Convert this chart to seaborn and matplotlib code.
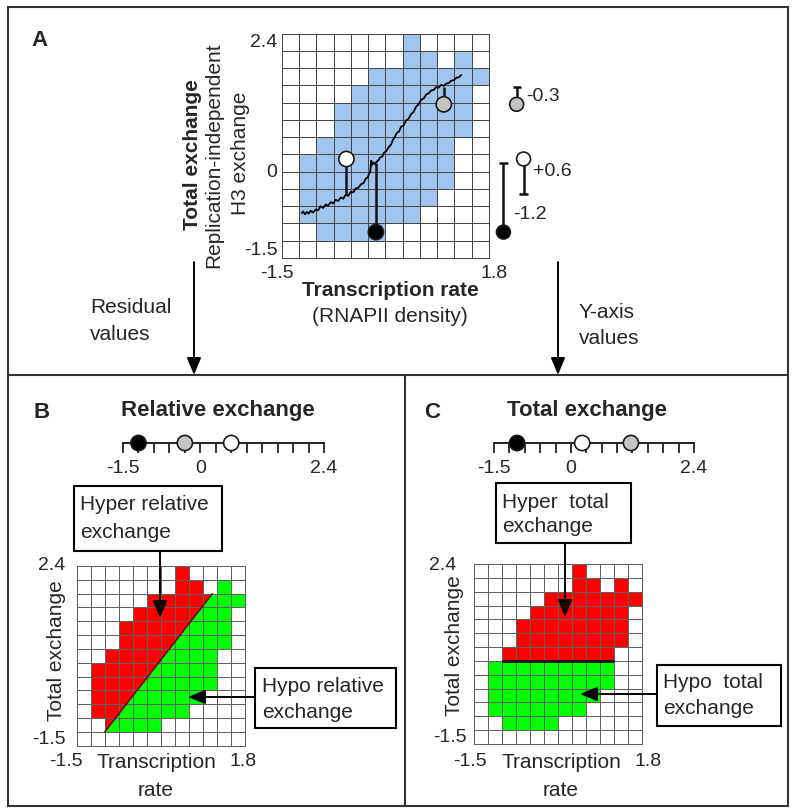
import numpy as np
import pandas as pd
import matplotlib
matplotlib.use("Agg")
import matplotlib.pyplot as plt
from matplotlib.colors import ListedColormap
from matplotlib.patches import Rectangle, Polygon
import seaborn as sns

sns.set_theme(style="white")
plt.rcParams["font.family"] = ["Liberation Sans", "DejaVu Sans"]

W, H = 795, 809
fig = plt.figure(figsize=(W / 100, H / 100), dpi=100)


def rect(x0, y0, x1, y1):
    return [x0 / W, 1 - y1 / H, (x1 - x0) / W, (y1 - y0) / H]


# ---------------- data ----------------
x_lim = [-1.5, 1.8]          # transcription rate
y_lim = [-1.5, 2.4]          # total exchange
x_tick_labels = ["-1.5", "1.8"]
y_tick_labels = ["2.4", "0", "-1.5"]

# occupied cells of the density map (rows top->bottom, 12 columns)
shape_rows = [
    "000000010000",
    "000000011010",
    "000001111111",
    "000011111110",
    "000111111110",
    "000111111110",
    "001111111100",
    "011111111100",
    "011111111100",
    "011111111000",
    "011111110000",
    "001111000000",
    "000000000000",
]

# running trend line of panel A
curve_x = [-1.18, -1.16, -1.13, -1.10, -1.07, -1.04, -1.00, -0.96, -0.92, -0.88,
           -0.84, -0.80, -0.76, -0.72, -0.68, -0.64, -0.60, -0.56, -0.52, -0.48,
           -0.44, -0.40, -0.36, -0.32, -0.28, -0.24, -0.20, -0.16, -0.13, -0.11,
           -0.09, -0.075, -0.06, -0.04, -0.02, 0.01, 0.04, 0.07, 0.10, 0.13,
           0.16, 0.20, 0.24, 0.27, 0.30, 0.33, 0.37, 0.40, 0.44, 0.48,
           0.52, 0.56, 0.60, 0.64, 0.68, 0.72, 0.76, 0.80, 0.84, 0.88,
           0.92, 0.96, 1.00, 1.04, 1.08, 1.12, 1.16, 1.20, 1.24, 1.28,
           1.32, 1.36]
curve_y = [-0.72, -0.69, -0.74, -0.70, -0.73, -0.68, -0.71, -0.66, -0.67, -0.60,
           -0.63, -0.57, -0.59, -0.53, -0.55, -0.49, -0.51, -0.45, -0.47, -0.40,
           -0.42, -0.35, -0.36, -0.29, -0.28, -0.22, -0.20, -0.12, -0.10, -0.04,
           0.00, 0.19, 0.12, 0.16, 0.13, 0.17, 0.20, 0.25, 0.26, 0.33,
           0.35, 0.42, 0.47, 0.55, 0.60, 0.67, 0.70, 0.78, 0.80, 0.89,
           0.92, 1.00, 1.04, 1.13, 1.17, 1.25, 1.27, 1.34, 1.36, 1.41,
           1.42, 1.47, 1.46, 1.51, 1.49, 1.53, 1.54, 1.58, 1.59, 1.63,
           1.64, 1.68]

# example genes: black, white, gray
gene_names = ["black", "white", "gray"]
dot_x = [0.0, -0.47, 1.08]          # transcription rate
dot_y = [-1.05, 0.22, 1.17]         # total exchange
residual = [-1.2, 0.6, -0.3]        # relative exchange
residual_labels = ["-1.2", "+0.6", "-0.3"]
dot_fill = {"black": "black", "white": "white", "gray": "#c4c4c4"}

scale_range = [-1.5, 2.4]
scale_major = [-1.5, 0, 2.4]
scale_labels = ["-1.5", "0", "2.4"]

relative_diag_x = [-0.95, 1.16]
relative_diag_y = [-1.2, 1.8]
total_split_y = 0.3
total_split_x = [-0.95, 1.25]

BLUE = "#9fc4ee"
RED = "#ff0000"
GREEN = "#00ff00"

shape = np.array([[int(c) for c in r] for r in shape_rows])
n_rows, n_cols = shape.shape
FS = 15
TS = 14

# ---------------- panel A ----------------
boxA = (281.7, 33.5, 489, 258)
axA = fig.add_axes(rect(*boxA))
sns.heatmap(shape, ax=axA, cmap=ListedColormap(["white", BLUE]), vmin=0, vmax=1,
            cbar=False, linewidths=0.55, linecolor="#454545",
            xticklabels=False, yticklabels=False)
axA.collections[0].set_clip_on(False)

ovA = fig.add_axes(rect(*boxA), zorder=3)
ovA.set_facecolor("none")
sns.lineplot(x=curve_x, y=curve_y, ax=ovA, color="black", lw=1.3,
             sort=False, estimator=None)
for i in range(3):
    ovA.plot([dot_x[i], dot_x[i]], [dot_y[i], dot_y[i] - residual[i]],
             color="#111111", lw=1.8, zorder=4, solid_capstyle="butt")
sns.scatterplot(x=dot_x, y=dot_y, hue=gene_names, palette=dot_fill, ax=ovA,
                s=120, edgecolor="#1a1a1a", linewidth=1.2, zorder=5, legend=False)

# residual glyphs to the right of the map
res_x = [2.03, 2.35, 2.24]
res_label_y = [-0.75, 0.0, 1.30]
for i in range(3):
    end = dot_y[i] - residual[i]
    ovA.plot([res_x[i], res_x[i]], [dot_y[i], end], color="#111111", lw=1.8,
             clip_on=False, solid_capstyle="butt")
    ovA.plot([res_x[i] - 0.065, res_x[i] + 0.065], [end, end], color="#111111",
             lw=1.8, clip_on=False, solid_capstyle="butt")
    ovA.text(res_x[i] + 0.15, res_label_y[i], residual_labels[i], fontsize=TS,
             ha="left", va="center", clip_on=False)
sns.scatterplot(x=res_x, y=dot_y, hue=gene_names, palette=dot_fill, ax=ovA,
                s=100, edgecolor="#1a1a1a", linewidth=1.2, zorder=5, legend=False,
                clip_on=False)
ovA.set_xlim(x_lim)
ovA.set_ylim(y_lim)
ovA.axis("off")

# ---------------- panel B ----------------
GRID_B = dict(linewidths=0.45, linecolor="#606060")
boxB = (76.7, 566, 245, 745.7)
axB = fig.add_axes(rect(*boxB))
ovB = fig.add_axes(rect(*boxB), zorder=3)
ovB.set_xlim(x_lim)
ovB.set_ylim(y_lim)
ovB.axis("off")
sns.heatmap(shape, ax=axB, cmap=ListedColormap(["white", RED]), vmin=0, vmax=1,
            cbar=False, xticklabels=False, yticklabels=False, **GRID_B)
axB.collections[0].set_clip_on(False)
sns.heatmap(shape, mask=(shape == 0), ax=axB, cmap=ListedColormap([GREEN]),
            vmin=0, vmax=1, cbar=False, xticklabels=False, yticklabels=False,
            **GRID_B)
slope = (relative_diag_y[1] - relative_diag_y[0]) / (relative_diag_x[1] - relative_diag_x[0])
x_low = relative_diag_x[0] + (y_lim[0] - 0.5 - relative_diag_y[0]) / slope
below = Polygon([(x_low, y_lim[0] - 0.5),
                 (relative_diag_x[1], relative_diag_y[1]),
                 (relative_diag_x[1], y_lim[1] + 0.5),
                 (x_lim[1] + 0.5, y_lim[1] + 0.5),
                 (x_lim[1] + 0.5, y_lim[0] - 0.5)],
                closed=True, transform=ovB.transData)
axB.collections[-1].set_clip_path(below)
ovB.plot(relative_diag_x, relative_diag_y, color="#6e0000", lw=1.1)

# ---------------- panel C ----------------
boxC = (474, 564, 641.7, 744)
axC = fig.add_axes(rect(*boxC))
row_center_y = y_lim[1] - (np.arange(n_rows) + 0.5) * (y_lim[1] - y_lim[0]) / n_rows
classes = shape * np.where(row_center_y[:, None] > total_split_y, 1, 2)
sns.heatmap(classes, ax=axC, cmap=ListedColormap(["white", RED, GREEN]), vmin=0,
            vmax=2, cbar=False, xticklabels=False, yticklabels=False, **GRID_B)
axC.collections[0].set_clip_on(False)
ovC = fig.add_axes(rect(*boxC), zorder=3)
ovC.set_xlim(x_lim)
ovC.set_ylim(y_lim)
ovC.axis("off")
ovC.plot(total_split_x, [total_split_y, total_split_y], color="#111111", lw=2.0,
         solid_capstyle="butt")


# ---------------- number-line scales ----------------
def draw_scale(box, values):
    ax = fig.add_axes(rect(*box), zorder=4)
    ax.set_facecolor("none")
    sns.scatterplot(x=values, y=[0, 0, 0], hue=gene_names, palette=dot_fill, ax=ax,
                    s=120, edgecolor="#1a1a1a", linewidth=1.2, zorder=5,
                    legend=False, clip_on=False)
    ax.set_xlim(scale_range)
    ax.set_ylim(0, 1)
    for s in ["left", "top", "right"]:
        ax.spines[s].set_visible(False)
    ax.spines["bottom"].set_linewidth(1.4)
    ax.spines["bottom"].set_color("#222222")
    ax.set_xticks(scale_major)
    ax.set_xticklabels(scale_labels)
    ax.set_xticks(np.arange(scale_range[0], scale_range[1] + 0.01, 0.3), minor=True)
    ax.tick_params(which="both", bottom=True, direction="out", length=7.5,
                   width=1.3, color="#222222", labelsize=TS, pad=5)
    ax.set_yticks([])
    ax.set_xlabel("")
    ax.set_ylabel("")
    return ax


draw_scale((123, 433, 324, 443), residual)
draw_scale((494, 433, 694, 443), dot_y)

# ---------------- annotations overlay (pixel coordinates) ----------------
top = fig.add_axes([0, 0, 1, 1], zorder=10)
top.set_facecolor("none")
top.set_xlim(0, W)
top.set_ylim(H, 0)
top.axis("off")

EC = "#333333"
top.add_patch(Rectangle((7.5, 7), 780, 798.5, fill=False, lw=1.5, ec=EC))
top.plot([7.5, 787.5], [375, 375], color=EC, lw=1.5)
top.plot([404.5, 404.5], [375, 805.5], color=EC, lw=1.5)


def arrow(x0, y0, x1, y1):
    top.annotate("", xy=(x1, y1), xytext=(x0, y0),
                 arrowprops=dict(arrowstyle="-|>,head_length=0.8,head_width=0.33",
                                 color="black", lw=1.4, shrinkA=0, shrinkB=0,
                                 mutation_scale=13))


arrow(194, 262, 194, 375)
arrow(558, 262, 558, 375)
arrow(160, 551, 160, 618)
arrow(255, 697, 188, 697)
arrow(565, 543, 565, 617)
arrow(657, 694, 580, 694)

for (x0, y0, x1, y1) in [(74, 486, 222, 551), (255, 668, 396, 728),
                         (496, 483, 631, 543), (657, 665, 781, 726)]:
    top.add_patch(Rectangle((x0, y0), x1 - x0, y1 - y0, fill=True, fc="white",
                            lw=1.5, ec="black"))


def t(x, y, s, size=FS, ha="center", va="center", **kw):
    top.text(x, y, s, fontsize=size, ha=ha, va=va, **kw)


# panel A text
t(40, 40, "A", 16, weight="bold")
t(193, 155, "Total exchange", FS, rotation=90, weight="bold")
t(214, 155, "Replication-independent", FS, rotation=90)
t(241, 153, "H3 exchange", FS, rotation=90)
t(277.5, 42, y_tick_labels[0], TS, ha="right")
t(277.5, 172, y_tick_labels[1], TS, ha="right")
t(277.5, 250, y_tick_labels[2], TS, ha="right")
t(277, 274, x_tick_labels[0], TS)
t(494, 274, x_tick_labels[1], TS)
t(390, 291, "Transcription rate", FS, weight="bold")
t(390, 316, "(RNAPII density)", FS)
t(90, 307, "Residual", FS, ha="left")
t(90, 334, "values", FS, ha="left")
t(579, 312, "Y-axis", FS, ha="left")
t(579, 338, "values", FS, ha="left")

# panel B text
t(42, 412, "B", 16, weight="bold")
t(218, 410, "Relative exchange", 16, weight="bold")
t(80, 505, "Hyper relative", FS, ha="left")
t(80, 532, "exchange", FS, ha="left")
t(262, 687, "Hypo relative", FS, ha="left")
t(262, 712, "exchange", FS, ha="left")
t(57, 651, "Total exchange", FS, rotation=90)
t(51.5, 565, y_tick_labels[0], TS)
t(49, 740, y_tick_labels[2], TS)
t(66, 762, x_tick_labels[0], TS)
t(243, 762, x_tick_labels[1], TS)
t(156, 762, "Transcription", FS)
t(156, 790, "rate", FS)

# panel C text
t(432, 412, "C", 16, weight="bold")
t(587, 410, "Total exchange", 16, weight="bold")
t(502, 503, "Hyper  total", FS, ha="left")
t(502, 527, "exchange", FS, ha="left")
t(663, 683, "Hypo  total", FS, ha="left")
t(663, 708, "exchange", FS, ha="left")
t(455, 646, "Total exchange", FS, rotation=90)
t(442.5, 565, y_tick_labels[0], TS)
t(450, 738, y_tick_labels[2], TS)
t(470, 762, x_tick_labels[0], TS)
t(648, 762, x_tick_labels[1], TS)
t(561, 762, "Transcription", FS)
t(561, 790, "rate", FS)

fig.savefig("out.png", dpi=100)
